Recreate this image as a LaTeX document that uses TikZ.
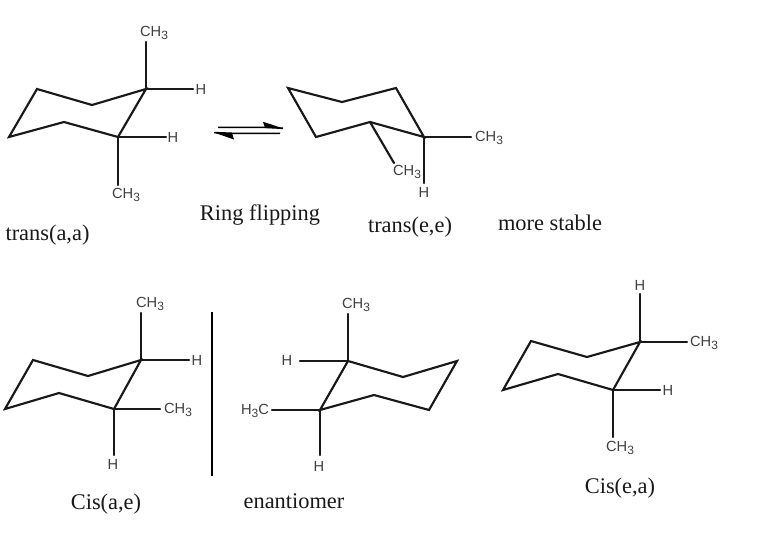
\documentclass[tikz,border=0pt]{standalone}
\usepackage{fontspec}
\setmainfont{Liberation Serif}
\newfontfamily\chemfont{Liberation Sans}
\newcommand{\subn}[1]{\raisebox{-.35ex}{\fontsize{9}{9}\selectfont #1}}
\newcommand{\methyl}{CH\subn{3}}
\tikzset{
  bondline/.style={line width=1.6pt,black!90,line cap=round,line join=miter},
  chem/.style={font=\chemfont\fontsize{11}{12}\selectfont,text=black!75,inner sep=0pt,yshift=-0.5pt},
  captiontext/.style={font=\fontsize{16.8}{19}\selectfont,text=black!90,inner sep=0pt,yshift=-1pt},
  halfline/.style={line width=1.2pt,black},
  barb/.style={fill=black,draw=none},
  mirrorline/.style={line width=1.6pt,black}
}
\newcommand{\ring}[7]{% prefix, six vertices
  \coordinate (#1a) at #2; \coordinate (#1b) at #3; \coordinate (#1c) at #4;
  \coordinate (#1d) at #5; \coordinate (#1e) at #6; \coordinate (#1f) at #7;
  \draw[bondline] (#1a) -- (#1b) -- (#1c) -- (#1d) -- (#1e) -- (#1f) -- cycle;
}
\begin{document}
\begin{tikzpicture}[x=0.75pt,y=-0.75pt]
\useasboundingbox[fill=white] (0,0) rectangle (768,533);

% trans(a,a)
\ring{p}{(37,89)}{(92,105)}{(146,89)}{(118,137)}{(64,122)}{(9,137)}
\node[chem] (p1) at (154,32) {\methyl};
\node[chem] (p2) at (201,89) {H};
\node[chem] (p3) at (173,137) {H};
\node[chem] (p4) at (126,194) {\methyl};
\coordinate (p1e) at (146,42); \coordinate (p2e) at (193,89);
\coordinate (p3e) at (166,137); \coordinate (p4e) at (118,185);
\draw[bondline] (pc) -- (p1e);
\draw[bondline] (pc) -- (p2e);
\draw[bondline] (pd) -- (p3e);
\draw[bondline] (pd) -- (p4e);

% equilibrium arrows
\coordinate (ua) at (218,127.3); \coordinate (ub) at (283,128.3); \coordinate (ubb) at (263,121.8); \coordinate (ubc) at (265,128);
\coordinate (la) at (280,133.3); \coordinate (lb) at (214,132.6); \coordinate (lbb) at (234,139.5); \coordinate (lbc) at (232,133);
\draw[halfline] (ua) -- (ua -| ubc) -- (ub);
\draw[halfline] (la) -- (la -| lbc) -- (lb);
\fill[barb] (ub) -- (ubb) -- (ubc) -- cycle;
\fill[barb] (lb) -- (lbb) -- (lbc) -- cycle;

% trans(e,e)
\ring{q}{(288,88)}{(342,102)}{(396,88)}{(424,137)}{(370,122)}{(316,137)}
\node[chem] (q1) at (489,137) {\methyl};
\node[chem] (q2) at (407,171) {\methyl};
\node[chem] (q3) at (424,192) {H};
\coordinate (q1e) at (471,137); \coordinate (q2e) at (394,163); \coordinate (q3e) at (424,183);
\draw[bondline] (qd) -- (q1e);
\draw[bondline] (qe) -- (q2e);
\draw[bondline] (qd) -- (q3e);

% Cis(a,e)
\ring{r}{(33,360)}{(88,376)}{(141,360)}{(114,409)}{(59,393)}{(5,409)}
\node[chem] (r1) at (150,303) {\methyl};
\node[chem] (r2) at (197,360) {H};
\node[chem] (r3) at (178,409) {\methyl};
\node[chem] (r4) at (113,464) {H};
\coordinate (r1e) at (141,313); \coordinate (r2e) at (189,360);
\coordinate (r3e) at (160,409); \coordinate (r4e) at (114,455);
\draw[bondline] (rc) -- (r1e);
\draw[bondline] (rc) -- (r2e);
\draw[bondline] (rd) -- (r3e);
\draw[bondline] (rd) -- (r4e);

% mirror
\coordinate (ma) at (212,312); \coordinate (mb) at (212,476);
\draw[mirrorline] (ma) -- (mb);

% enantiomer
\ring{s}{(457,361)}{(403,377)}{(348,361)}{(320,410)}{(374,395)}{(429,410)}
\node[chem] (s1) at (356,304) {\methyl};
\node[chem] (s2) at (287,360) {H};
\node[chem] (s3) at (255,410) {H\subn{3}C};
\node[chem] (s4) at (319,466) {H};
\coordinate (s1e) at (348,314); \coordinate (s2e) at (300,361);
\coordinate (s3e) at (272,410); \coordinate (s4e) at (320,455);
\draw[bondline] (sc) -- (s1e);
\draw[bondline] (sc) -- (s2e);
\draw[bondline] (sd) -- (s3e);
\draw[bondline] (sd) -- (s4e);

% Cis(e,a)
\ring{t}{(531,341)}{(587,357)}{(640,342)}{(613,390)}{(558,374)}{(503,390)}
\node[chem] (t1) at (640,285) {H};
\node[chem] (t2) at (704,342) {\methyl};
\node[chem] (t3) at (668,390) {H};
\node[chem] (t4) at (620,447) {\methyl};
\coordinate (t1e) at (640,294); \coordinate (t2e) at (687,342);
\coordinate (t3e) at (660,390); \coordinate (t4e) at (613,437);
\draw[bondline] (tc) -- (t1e);
\draw[bondline] (tc) -- (t2e);
\draw[bondline] (td) -- (t3e);
\draw[bondline] (td) -- (t4e);

% captions
\node[captiontext] (c1) at (47.5,234) {trans(a,a)};
\node[captiontext] (c2) at (260,214) {Ring flipping};
\node[captiontext] (c3) at (410,226) {trans(e,e)};
\node[captiontext] (c4) at (550,221) {more stable};
\node[captiontext] (c5) at (106,503) {Cis(a,e)};
\node[captiontext] (c6) at (294,500) {enantiomer};
\node[captiontext] (c7) at (620,487) {Cis(e,a)};
\end{tikzpicture}
\end{document}
